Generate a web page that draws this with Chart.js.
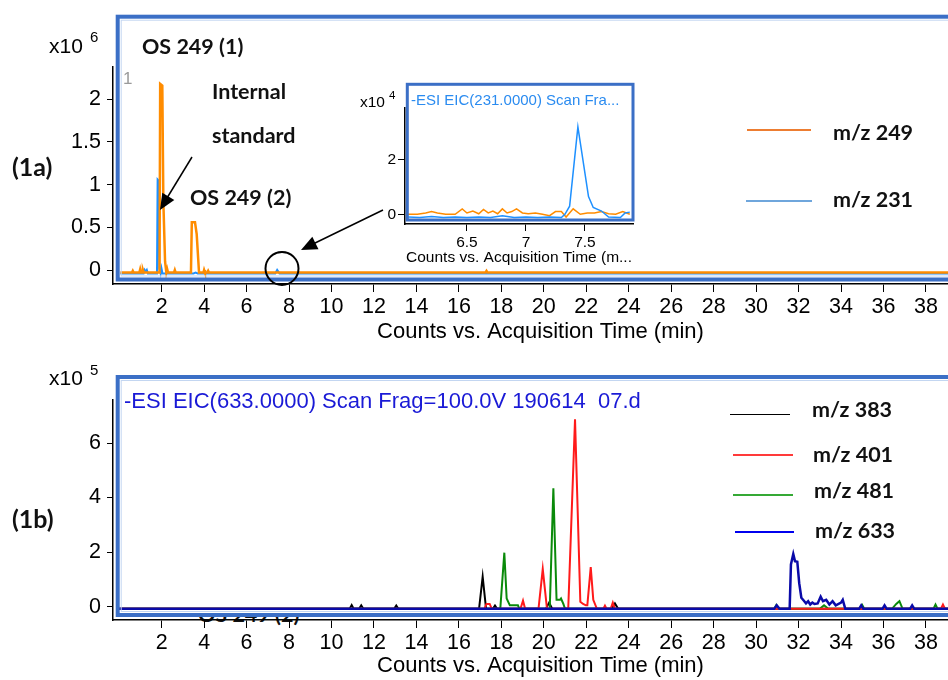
<!DOCTYPE html>
<html>
<head>
<meta charset="utf-8">
<script src="https://cdn.jsdelivr.net/npm/chart.js@4.4.1/dist/chart.umd.min.js"></script>
<style>
  html, body { margin: 0; padding: 0; background: #fff; }
  #fig { position: relative; width: 948px; height: 680px; overflow: hidden; background: #fff; font-family: 'Liberation Sans', Arial, sans-serif; }
  #fig canvas { position: absolute; z-index: 1; }
  .t { position: absolute; white-space: pre; color: #000; z-index: 6; }
  .bold { font-family: Lato, 'Open Sans', sans-serif; font-weight: 700; font-size: 21.5px; color: #111; }
  .lg { position: absolute; z-index: 6; }
  #overlay { position: absolute; left: 0; top: 0; z-index: 5; pointer-events: none; }
  #clipText { position: absolute; left: 196px; top: 617px; width: 130px; height: 12px; overflow: hidden; z-index: 0; }
</style>
</head>
<body>
<div id="fig">
  <div id="clipText"><div class="bold" style="position:absolute;left:2px;top:-14px;line-height:22px;white-space:pre;">OS 249 (2)</div></div>
  <canvas id="topChart" width="968" height="345" style="left:0;top:0"></canvas>
  <canvas id="bottomChart" width="968" height="339" style="left:0;top:340px"></canvas>
  <canvas id="insetChart" width="300" height="177" style="left:340px;top:90px"></canvas>
  <svg id="overlay" width="948" height="680">
    <!-- panel frames -->
    <rect x="117.7" y="16.7" width="900" height="262.8" fill="none" stroke="#3b6fc6" stroke-width="4"/>
    <rect x="121.2" y="20.2" width="900" height="255.8" fill="none" stroke="#c3d6f1" stroke-width="1"/>
    <rect x="117.7" y="377" width="900" height="238" fill="none" stroke="#3b6fc6" stroke-width="4"/>
    <rect x="121.2" y="380.5" width="900" height="231" fill="none" stroke="#c3d6f1" stroke-width="1"/>
    <rect x="407.3" y="84.3" width="225.7" height="135.7" fill="none" stroke="#3b6fc6" stroke-width="3"/>
    <!-- arrows and circle -->
    <line x1="192" y1="157" x2="167" y2="198" stroke="#000" stroke-width="1.5"/>
    <polygon points="160,210 174.3,199.9 162.3,192.7" fill="#000"/>
    <line x1="383" y1="210" x2="313" y2="244" stroke="#000" stroke-width="1.5"/>
    <polygon points="301,250 318.5,249.3 312.3,236.7" fill="#000"/>
    <circle cx="282" cy="268.5" r="16.5" fill="none" stroke="#000" stroke-width="2"/>
  </svg>
</div>
<script>
// time axis (min) and tick labels
const timeTicks = [2, 4, 6, 8, 10, 12, 14, 16, 18, 20, 22, 24, 26, 28, 30, 32, 34, 36, 38];
const topYTicks = [0, 0.5, 1, 1.5, 2];
const bottomYTicks = [0, 2, 4, 6];
const insetXTicks = [6.5, 7, 7.5];
const insetYTicks = [0, 2];

// (1a) counts x10^6
const time249 = [0.05, 0.6, 0.64, 0.68, 0.95, 0.99, 1.03, 1.08, 1.12, 1.16, 1.9, 1.93, 2.03, 2.08, 2.16, 2.22, 2.26, 2.3, 2.58, 2.62, 2.66, 3.38, 3.42, 3.57, 3.65, 3.76, 3.97, 4.0, 4.04, 4.15, 4.19, 4.23, 17.25, 17.3, 17.35, 40];
const counts249 = [-0.03, -0.03, -0.01, -0.03, -0.03, 0.01, -0.03, -0.03, 0.0, -0.03, -0.03, 2.18, 2.16, 0.8, 0.1, -0.03, 0.01, -0.03, -0.03, 0.0, -0.03, -0.03, 0.56, 0.56, 0.42, -0.03, -0.03, 0.0, -0.03, -0.03, -0.01, -0.03, -0.03, -0.01, -0.03, -0.03];
const time231 = [0.05, 1.15, 1.2, 1.25, 1.3, 1.35, 1.78, 1.81, 1.85, 1.89, 1.95, 1.99, 2.04, 3.5, 3.6, 3.7, 7.35, 7.44, 7.55, 40];
const counts231 = [-0.04, -0.04, 0.0, -0.02, 0.0, -0.04, -0.04, 1.06, 1.05, 0.02, -0.04, 0.02, -0.04, -0.04, -0.03, -0.04, -0.04, 0.0, -0.04, -0.04];

// inset counts x10^4
const insetTime249 = [6.0, 6.08, 6.15, 6.2, 6.25, 6.32, 6.4, 6.46, 6.5, 6.55, 6.6, 6.64, 6.68, 6.72, 6.76, 6.8, 6.84, 6.88, 6.92, 6.97, 7.02, 7.08, 7.14, 7.2, 7.25, 7.3, 7.34, 7.4, 7.46, 7.52, 7.58, 7.64, 7.7, 7.76, 7.82, 7.88];
const insetCounts249 = [0, 0, 0.05, 0.1, 0.05, 0, 0, 0.2, 0.05, 0.12, 0.02, 0.18, 0.05, 0.12, 0.02, 0.2, 0.05, 0.1, 0.2, 0.05, 0.02, 0.05, 0, -0.05, 0.1, 0.1, -0.1, 0.2, 0, 0.05, 0.05, 0.1, 0.02, 0, 0.1, 0];
const insetTime231 = [6.0, 6.1, 6.2, 6.3, 6.4, 6.5, 6.6, 6.7, 6.8, 6.9, 7.0, 7.1, 7.2, 7.3, 7.33, 7.37, 7.44, 7.53, 7.57, 7.64, 7.7, 7.8, 7.84, 7.88];
const insetCounts231 = [-0.1, -0.12, -0.08, -0.12, -0.1, -0.12, -0.1, -0.12, -0.05, -0.12, -0.1, -0.12, -0.1, -0.12, 0.0, 0.3, 3.22, 0.65, 0.25, 0.12, -0.1, -0.12, 0.05, 0.08];

// (1b) counts x10^5
const time383 = [0, 10.85, 10.95, 11.05, 11.3, 11.4, 11.5, 12.95, 13.05, 13.15, 16.95, 17.12, 17.28, 17.6, 17.7, 17.8, 20.1, 20.25, 20.4, 23.2, 23.35, 23.5, 40];
const counts383 = [-0.08, -0.08, 0.06, -0.08, -0.08, 0.05, -0.08, -0.08, 0.04, -0.08, -0.08, 1.1, -0.08, -0.08, 0.04, -0.08, -0.08, 0.15, -0.08, -0.08, 0.12, -0.08, -0.08];
const time401 = [0, 17.2, 17.3, 17.45, 17.55, 18.9, 19.02, 19.12, 19.75, 19.95, 20.15, 21.15, 21.47, 21.72, 21.85, 21.98, 22.05, 22.21, 22.33, 22.5, 22.8, 22.88, 22.96, 23.15, 23.25, 23.35, 38.7, 38.8, 38.9, 40];
const counts401 = [-0.08, -0.08, 0.1, 0.1, -0.08, -0.08, 0.22, -0.08, -0.08, 1.38, -0.08, -0.08, 6.87, 0.18, 0.1, 0.05, 0.05, 1.45, 0.25, -0.08, -0.08, 0.04, -0.08, -0.08, 0.15, -0.08, -0.08, 0.08, -0.08, -0.08];
const time481 = [0, 17.95, 18.14, 18.25, 18.4, 18.78, 18.85, 20.28, 20.45, 20.6, 20.76, 20.81, 20.92, 21.0, 30.85, 30.95, 31.05, 33.0, 33.2, 33.4, 34.9, 35.0, 35.1, 36.4, 36.6, 36.75, 36.9, 38.35, 38.45, 38.55, 40];
const counts481 = [-0.08, -0.08, 1.98, 0.3, 0.05, 0.05, -0.08, -0.08, 4.34, 0.25, 0.25, 0.3, 0.1, -0.08, -0.08, 0.06, -0.08, -0.08, 0.05, -0.08, -0.08, 0.06, -0.08, -0.08, 0.1, 0.2, -0.08, -0.08, 0.08, -0.08, -0.08];
const time633 = [0, 30.85, 30.97, 31.1, 31.58, 31.64, 31.75, 31.83, 31.94, 32.03, 32.13, 32.25, 32.35, 32.45, 32.55, 32.65, 32.75, 32.9, 33.04, 33.15, 33.3, 33.45, 33.6, 33.75, 34.0, 34.08, 34.2, 34.85, 34.95, 35.05, 35.95, 36.05, 36.15, 37.25, 37.35, 37.45, 40];
const counts633 = [-0.08, -0.08, 0.05, -0.08, -0.08, 1.55, 1.93, 1.67, 1.65, 0.86, 0.33, 0.22, 0.12, 0.2, 0.08, 0.15, 0.1, 0.12, 0.37, 0.2, 0.25, 0.08, 0.2, 0.05, 0.15, 0.25, -0.08, -0.08, 0.05, -0.08, -0.08, 0.05, -0.08, -0.08, 0.05, -0.08, -0.08];

const topLegend = ['m/z 249', 'm/z 231'];
const bottomLegend = ['m/z 383', 'm/z 401', 'm/z 481', 'm/z 633'];

const tickFamily = "'Liberation Sans', Arial, sans-serif";
const pts = (ts, vs) => ts.map((t, i) => ({ x: t, y: vs[i] }));

function lineSet(label, data, color, width, order) {
    return { label: label, data: data, borderColor: color, borderWidth: width, pointRadius: 0, tension: 0, order: order };
}

function xAxis(min, max, ticks, fontSize, tickLen, height, title, titleSize) {
    return {
        type: 'linear', min: min, max: max,
        afterBuildTicks: s => { s.ticks = ticks.map(v => ({ value: v })); },
        afterFit: s => { s.height = height; },
        ticks: { autoSkip: false, maxRotation: 0, padding: 2, color: '#000', font: { family: tickFamily, size: fontSize }, callback: v => String(v) },
        grid: { drawOnChartArea: false, drawTicks: true, tickLength: tickLen, color: '#000' },
        border: { display: true, color: '#000', width: 1.5 },
        title: { display: true, text: title, color: '#000', padding: 0, font: { family: tickFamily, size: titleSize } }
    };
}

function yAxis(min, max, ticks, fontSize, tickLen, pad, width) {
    return {
        min: min, max: max,
        afterBuildTicks: s => { s.ticks = ticks.map(v => ({ value: v })); },
        afterFit: s => { s.width = width; },
        ticks: { padding: pad, color: '#000', font: { family: tickFamily, size: fontSize }, callback: v => String(v) },
        grid: { drawOnChartArea: false, drawTicks: true, tickLength: tickLen, color: '#000' },
        border: { display: true, color: '#000', width: 1.5 }
    };
}

function baseOptions(padding, scales) {
    return {
        responsive: false, animation: false,
        layout: { padding: padding },
        plugins: { legend: { display: false }, tooltip: { enabled: false } },
        scales: scales
    };
}

// 21.23 px per minute, t=0 at x=119.2
new Chart(document.getElementById('topChart'), {
    type: 'line',
    data: { datasets: [
        lineSet(topLegend[0], pts(time249, counts249), '#ff8c00', 2.5, 0),
        lineSet(topLegend[1], pts(time231, counts231), '#1e90ff', 2, 1)
    ] },
    options: baseOptions({ top: 67, left: 0, right: 0, bottom: 0 }, {
        x: xAxis(-0.292, 39.98, timeTicks, 21.5, 8, 61, 'Counts vs. Acquisition Time (min)', 22),
        y: yAxis(-0.164, 2.378, topYTicks, 21.5, 6, 6, 113)
    })
});

new Chart(document.getElementById('bottomChart'), {
    type: 'line',
    data: { datasets: [
        lineSet(bottomLegend[0], pts(time383, counts383), '#000000', 2, 3),
        lineSet(bottomLegend[1], pts(time401, counts401), '#ff1a1a', 2, 1),
        lineSet(bottomLegend[2], pts(time481, counts481), '#0a8a0a', 2, 2),
        lineSet(bottomLegend[3], pts(time633, counts633), '#0a0aa8', 2.5, 0)
    ] },
    options: baseOptions({ top: 60, left: 0, right: 0, bottom: 0 }, {
        x: xAxis(-0.292, 39.98, timeTicks, 21.5, 8, 59, 'Counts vs. Acquisition Time (min)', 22),
        y: yAxis(-0.488, 7.577, bottomYTicks, 21.5, 6, 6, 113)
    })
});

new Chart(document.getElementById('insetChart'), {
    type: 'line',
    data: { datasets: [
        lineSet(topLegend[0], pts(insetTime249, insetCounts249), '#ff8c00', 1.5, 1),
        lineSet(topLegend[1], pts(insetTime231, insetCounts231), '#1e90ff', 1.5, 0)
    ] },
    options: baseOptions({ top: 18, left: 0, right: 7, bottom: 0 }, {
        x: xAxis(5.975, 7.907, insetXTicks, 15.5, 7, 43, 'Counts vs. Acquisition Time (m...', 15.5),
        y: yAxis(-0.357, 3.915, insetYTicks, 15.5, 7, 2, 65)
    })
});

// text annotations and legends
const fig = document.getElementById('fig');
function addText(text, x, cy, size, cls, color) {
    const d = document.createElement('div');
    d.className = 't ' + (cls || '');
    d.textContent = text;
    d.style.left = x + 'px';
    d.style.top = (cy - size * 0.6) + 'px';
    d.style.fontSize = size + 'px';
    d.style.lineHeight = (size * 1.2) + 'px';
    if (color) d.style.color = color;
    fig.appendChild(d);
}
function addLegend(label, color, x1, x2, y, thick, tx, ty) {
    const l = document.createElement('div');
    l.className = 'lg';
    l.style.left = x1 + 'px';
    l.style.top = (y - thick / 2) + 'px';
    l.style.width = (x2 - x1) + 'px';
    l.style.height = thick + 'px';
    l.style.background = color;
    fig.appendChild(l);
    addText(label, tx, ty, 21.5, 'bold');
}

addText('x10', 49, 46, 21);
addText('6', 90, 37, 15);
addText('OS 249 (1)', 142, 47, 21.5, 'bold');
addText('1', 123, 79, 17, '', '#9a9a9a');
addText('Internal', 212, 92, 21.5, 'bold');
addText('standard', 212, 136, 21.5, 'bold');
addText('(1a)', 12, 166, 25, 'bold');
addText('OS 249 (2)', 190, 198, 21.5, 'bold');
addText('x10', 360, 102, 15.5);
addText('4', 389, 96, 11.5);
addText('-ESI EIC(231.0000) Scan Fra...', 411, 100, 15, '', '#2a8bf0');
addText('x10', 49, 378, 21);
addText('5', 90, 370, 15);
addText('-ESI EIC(633.0000) Scan Frag=100.0V 190614  07.d', 124, 401, 22, '', '#1a1ad6');
addText('(1b)', 12, 518, 25, 'bold');

addLegend(topLegend[0], '#ed7d31', 747, 811, 130, 2, 833, 133);
addLegend(topLegend[1], '#6fa6dc', 746, 812, 200.5, 2, 833, 200);
addLegend(bottomLegend[0], '#000000', 730, 790, 414.5, 1.5, 812, 410);
addLegend(bottomLegend[1], '#ff3a3a', 733, 793, 455, 2, 813, 455);
addLegend(bottomLegend[2], '#35a935', 733, 793, 495, 2, 814, 491);
addLegend(bottomLegend[3], '#0000ee', 735, 794, 531.7, 2, 815, 531);
</script>
</body>
</html>
